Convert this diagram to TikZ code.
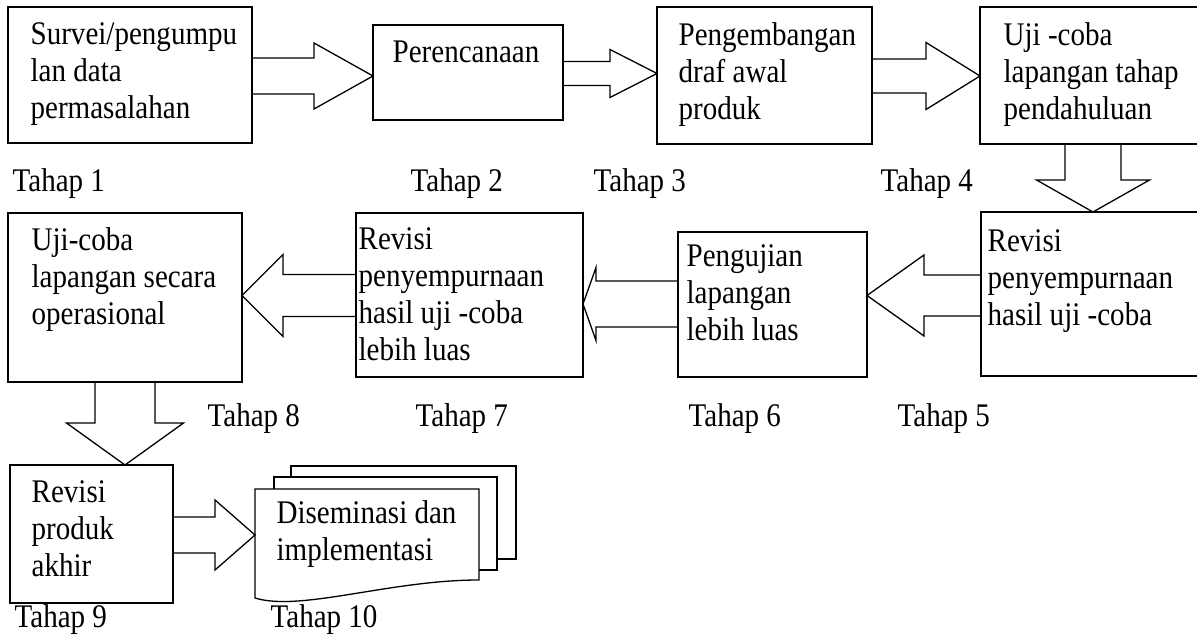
\documentclass[tikz,border=0pt]{standalone}
\usepackage{fontspec}
\setmainfont{Liberation Serif}[FakeStretch=0.88]
\usetikzlibrary{calc}
\newcommand{\arrR}[6]{\draw[blk] let \p1=(#1.east),\p2=(#2.west) in (\x1,#3+#4)--(\x2-#6,#3+#4)--(\x2-#6,#3+#5)--(\x2,#3)--(\x2-#6,#3-#5)--(\x2-#6,#3-#4)--(\x1,#3-#4);}
\newcommand{\arrL}[6]{\draw[blk] let \p1=(#1.west),\p2=(#2.east) in (\x1,#3+#4)--(\x2+#6,#3+#4)--(\x2+#6,#3+#5)--(\x2,#3)--(\x2+#6,#3-#5)--(\x2+#6,#3-#4)--(\x1,#3-#4);}
\newcommand{\arrD}[6]{\draw[blk] let \p1=(#1.south),\p2=(#2.north) in (#3-#4,\y1)--(#3-#4,\y2+#6)--(#3-#5,\y2+#6)--(#3,\y2)--(#3+#5,\y2+#6)--(#3+#4,\y2+#6)--(#3+#4,\y1);}
\begin{document}
\begin{tikzpicture}[x=1pt,y=1pt,line width=1.3pt,font=\fontsize{33}{37}\selectfont,
	box/.style={draw,anchor=north west,inner sep=0,outer sep=0},
	txt/.style={anchor=north west,align=left,inner sep=0},
	lbl/.style={anchor=base west,inner sep=0},
	blk/.style={line join=miter}]
	\useasboundingbox (0,0) rectangle (1197,637);
	\node[box,minimum width=244,minimum height=136] (b1) at (8,630) {};
	\node[box,minimum width=190,minimum height=95] (b2) at (373,612) {};
	\node[box,minimum width=215,minimum height=137] (b3) at (657,630) {};
	\node[box,minimum width=226,minimum height=137] (b4) at (980,630) {};
	\node[box,minimum width=225,minimum height=164] (b5) at (981,425) {};
	\node[box,minimum width=189,minimum height=145] (b6) at (678,405) {};
	\node[box,minimum width=227,minimum height=164] (b7) at (356,424) {};
	\node[box,minimum width=234,minimum height=169] (b8) at (8,424) {};
	\node[box,minimum width=163,minimum height=138] (b9) at (10,172) {};
	\node[box,draw=none,minimum width=224,minimum height=109] (b10) at (255,148) {};
	\node[txt] (t1) at ([shift={(22,-15)}]b1.north west) {Survei/pengumpu\\lan data\\permasalahan};
	\node[txt] (t2) at ([shift={(19,-15)}]b2.north west) {Perencanaan};
	\node[txt] (t3) at ([shift={(21,-15)}]b3.north west) {Pengembangan\\draf awal\\produk};
	\node[txt] (t4) at ([shift={(23,-15)}]b4.north west) {Uji -coba\\lapangan tahap\\pendahuluan};
	\node[txt] (t5) at ([shift={(6,-17)}]b5.north west) {Revisi\\penyempurnaan\\hasil uji -coba};
	\node[txt] (t6) at ([shift={(8,-12)}]b6.north west) {Pengujian\\lapangan\\lebih luas};
	\node[txt] (t7) at ([shift={(2,-14)}]b7.north west) {Revisi\\penyempurnaan\\hasil uji -coba\\lebih luas};
	\node[txt] (t8) at ([shift={(23,-14)}]b8.north west) {Uji-coba\\lapangan secara\\operasional};
	\node[txt] (t9) at ([shift={(21,-15)}]b9.north west) {Revisi\\produk\\akhir};
	\node[txt] (t10) at ([shift={(21,-11)}]b10.north west) {Diseminasi dan\\implementasi};
	\node[lbl] (s1) at (12,445) {Tahap 1};
	\node[lbl] (s2) at (410,445) {Tahap 2};
	\node[lbl] (s3) at (593,445) {Tahap 3};
	\node[lbl] (s4) at (880,445) {Tahap 4};
	\node[lbl] (s5) at (897,210) {Tahap 5};
	\node[lbl] (s6) at (688,210) {Tahap 6};
	\node[lbl] (s7) at (415,210) {Tahap 7};
	\node[lbl] (s8) at (207,210) {Tahap 8};
	\node[lbl] (s9) at (14,9) {Tahap 9};
	\node[lbl] (s10) at (270,9) {Tahap 10};
	\draw (b10.north west) -- (b10.north east) -- ++(0,-91) .. controls +(-89,0) and +(45,-14) .. (b10.south west) -- cycle;
	\draw ([shift={(19,0)}]b10.north west) -- ++(0,12) -- ([shift={(18,12)}]b10.north east) -- ++(0,-93) -- ++(-18,0);
	\draw ([shift={(36,12)}]b10.north west) -- ++(0,11) -- ([shift={(37,23)}]b10.north east) -- ++(0,-93) -- ++(-19,0);
	\arrR{b1}{b2}{561}{18}{33}{59}
	\arrR{b2}{b3}{563.5}{12}{24}{47}
	\arrR{b3}{b4}{561}{17}{33.5}{54}
	\arrD{b4}{b5}{1093}{28}{56.5}{32}
	\arrL{b5}{b6}{341.5}{20.5}{40.5}{57}
	\arrL{b6}{b7}{333}{23}{36.5}{13}
	\arrL{b7}{b8}{341.5}{21}{41}{41}
	\arrD{b8}{b9}{125}{30}{58.5}{42}
	\arrR{b9}{b10}{102}{18}{35}{40}
\end{tikzpicture}
\end{document}
